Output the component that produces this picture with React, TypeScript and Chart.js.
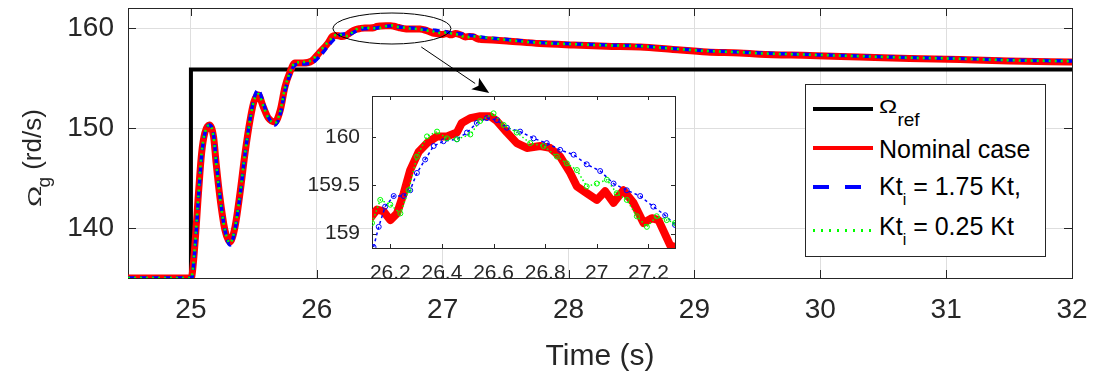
import React, { useEffect, useRef } from "react";
import { Chart, registerables } from "chart.js";
Chart.register(...registerables);

// ---------- main axis ticks ----------
const X_TICKS = [25, 26, 27, 28, 29, 30, 31, 32];
const X_TICK_LABELS = ["25", "26", "27", "28", "29", "30", "31", "32"];
const Y_TICKS = [140, 150, 160];
const Y_TICK_LABELS = ["140", "150", "160"];

// ---------- inset axis ticks ----------
const IN_X_TICKS = [26.2, 26.4, 26.6, 26.8, 27, 27.2];
const IN_X_LABELS = ["26.2", "26.4", "26.6", "26.8", "27", "27.2"];
const IN_Y_TICKS = [159, 159.5, 160];
const IN_Y_LABELS = ["159", "159.5", "160"];

// ---------- reference speed ----------
const T_REF = [24.5, 25.0, 25.0, 32.0];
const V_REF = [135, 135, 155.85, 155.85];

// ---------- transient (24.5 - 26.1 s) ----------
const T_RISE = [24.5, 25.0, 25.006, 25.03, 25.06, 25.085, 25.11, 25.146, 25.18, 25.2, 25.23, 25.27, 25.31, 25.35, 25.39, 25.43, 25.47, 25.5, 25.535, 25.575, 25.615, 25.668, 25.71, 25.747, 25.787, 25.826, 25.89, 25.96, 26.025, 26.09];
const NOM_RISE = [135, 135, 135.1, 138.1, 143.5, 147.5, 149.5, 150.3, 149.1, 146.5, 143.1, 139.8, 138.6, 140.1, 143.5, 147.5, 150.8, 152.6, 153.3, 152.1, 151.0, 150.6, 151.8, 154.1, 155.6, 156.5, 156.5, 156.7, 157.6, 158.5];
const K175_RISE = [135, 135, 135.0, 137.6, 143.0, 147.2, 149.4, 150.3, 149.3, 146.8, 143.3, 139.8, 138.3, 139.8, 143.2, 147.4, 150.9, 152.9, 153.8, 152.5, 151.1, 150.3, 151.4, 153.7, 155.3, 156.3, 156.4, 156.5, 157.2, 158.2];
const K025_RISE = [135, 135, 135.1, 138.0, 143.4, 147.5, 149.5, 150.3, 149.1, 146.5, 143.1, 139.8, 138.5, 140.0, 143.4, 147.5, 150.8, 152.7, 153.4, 152.2, 151.0, 150.5, 151.7, 154.0, 155.6, 156.5, 156.6, 156.8, 157.7, 158.6];

// ---------- zoomed window (26.1 - 27.3 s) ----------
const T_NOM_ZOOM = [26.123, 26.148, 26.174, 26.2, 26.226, 26.252, 26.277, 26.31, 26.342, 26.381, 26.419, 26.458, 26.477, 26.51, 26.548, 26.587, 26.613, 26.652, 26.69, 26.729, 26.781, 26.819, 26.858, 26.897, 26.923, 26.961, 27.0, 27.032, 27.065, 27.103, 27.142, 27.181, 27.213, 27.239, 27.284, 27.303];
const NOM_ZOOM = [159.16, 159.25, 159.23, 159.14, 159.21, 159.42, 159.66, 159.85, 159.94, 160.01, 160.01, 160.05, 160.15, 160.2, 160.22, 160.22, 160.17, 160.05, 159.94, 159.89, 159.91, 159.89, 159.8, 159.63, 159.49, 159.42, 159.35, 159.44, 159.32, 159.45, 159.32, 159.11, 159.16, 159.14, 158.88, 158.86];
const T_K175_ZOOM = [26.135, 26.155, 26.18, 26.213, 26.252, 26.277, 26.303, 26.335, 26.368, 26.406, 26.458, 26.497, 26.535, 26.574, 26.613, 26.652, 26.703, 26.755, 26.806, 26.858, 26.91, 26.961, 27.013, 27.065, 27.116, 27.168, 27.219, 27.265, 27.303];
const K175_ZOOM = [158.86, 159.07, 159.28, 159.39, 159.39, 159.45, 159.63, 159.77, 159.91, 159.96, 159.98, 160.05, 160.15, 160.2, 160.18, 160.1, 160.06, 159.99, 159.94, 159.87, 159.82, 159.72, 159.65, 159.52, 159.45, 159.39, 159.28, 159.19, 159.09];
const T_K025_ZOOM = [26.129, 26.161, 26.2, 26.239, 26.271, 26.303, 26.342, 26.381, 26.419, 26.458, 26.51, 26.548, 26.6, 26.639, 26.69, 26.742, 26.794, 26.845, 26.884, 26.923, 26.961, 27.0, 27.039, 27.077, 27.116, 27.155, 27.194, 27.232, 27.271, 27.303];
const K025_ZOOM = [159.11, 159.35, 159.3, 159.21, 159.45, 159.8, 160.01, 160.06, 159.99, 159.98, 160.03, 160.17, 160.25, 160.13, 160.05, 159.94, 159.91, 159.8, 159.73, 159.66, 159.49, 159.52, 159.56, 159.42, 159.35, 159.18, 159.07, 159.18, 159.14, 159.11];

// ---------- slow decay (27.5 - 32 s) ----------
const T_TAIL = [27.51, 27.77, 28.04, 28.3, 28.57, 28.83, 29.1, 29.36, 29.52, 29.92, 30.31, 30.71, 31.11, 31.5, 32.0];
const NOM_TAIL = [158.7, 158.45, 158.3, 158.18, 158.1, 157.85, 157.6, 157.5, 157.38, 157.25, 157.1, 156.95, 156.85, 156.7, 156.6];
const K175_TAIL = [158.85, 158.55, 158.42, 158.3, 158.2, 157.95, 157.72, 157.6, 157.5, 157.35, 157.2, 157.05, 156.95, 156.8, 156.7];
const K025_TAIL = [158.8, 158.52, 158.38, 158.27, 158.18, 157.93, 157.7, 157.58, 157.47, 157.33, 157.18, 157.03, 156.93, 156.78, 156.68];

// ---------- annotation (data units) ----------
const ELLIPSE = { t: 26.597, v: 159.95, rt: 0.469, rv: 1.55 };
const ARROW = { t0: 26.83, v0: 158.1, t1: 27.37, v1: 153.5 };

const FONT = "'Liberation Sans', Arial, Helvetica, sans-serif";
const TXT = "#262626";
const GRID = "#dedede";
const RED = "#ff0000";
const BLUE = "#0000ff";
const GREEN = "#00ff00";

const pts = (ts: number[], vs: number[]) => ts.map((t, i) => ({ x: t, y: vs[i] }));

function frameTicks(tickLen: number) {
  return {
    id: "frameTicks",
    beforeDatasetsDraw(chart: any) {
      const { ctx, chartArea: a, scales } = chart;
      const xs = scales.x, ys = scales.y;
      ctx.save();
      ctx.strokeStyle = TXT;
      ctx.lineWidth = 1;
      ctx.beginPath();
      for (const t of xs.ticks) {
        const p = Math.round(xs.getPixelForValue(t.value)) + 0.5;
        ctx.moveTo(p, a.bottom); ctx.lineTo(p, a.bottom - tickLen);
        ctx.moveTo(p, a.top); ctx.lineTo(p, a.top + tickLen);
      }
      for (const t of ys.ticks) {
        const p = Math.round(ys.getPixelForValue(t.value)) + 0.5;
        ctx.moveTo(a.left, p); ctx.lineTo(a.left + tickLen, p);
        ctx.moveTo(a.right, p); ctx.lineTo(a.right - tickLen, p);
      }
      ctx.stroke();
      ctx.strokeRect(Math.round(a.left) + 0.5, Math.round(a.top) + 0.5, Math.round(a.right - a.left), Math.round(a.bottom - a.top));
      ctx.restore();
    },
  };
}

const whiteArea = {
  id: "whiteArea",
  beforeDraw(chart: any) {
    const { ctx, chartArea: a } = chart;
    ctx.save();
    ctx.fillStyle = "#ffffff";
    ctx.fillRect(a.left, a.top, a.right - a.left, a.bottom - a.top);
    ctx.restore();
  },
};

const annot = {
  id: "annot",
  afterDatasetsDraw(chart: any) {
    const { ctx, scales } = chart;
    const xs = scales.x, ys = scales.y;
    const cx = xs.getPixelForValue(ELLIPSE.t), cy = ys.getPixelForValue(ELLIPSE.v);
    const rx = Math.abs(xs.getPixelForValue(ELLIPSE.t + ELLIPSE.rt) - cx);
    const ry = Math.abs(ys.getPixelForValue(ELLIPSE.v + ELLIPSE.rv) - cy);
    ctx.save();
    ctx.strokeStyle = "#000";
    ctx.lineWidth = 1;
    ctx.beginPath();
    ctx.ellipse(cx, cy, rx, ry, 0, 0, Math.PI * 2);
    ctx.stroke();
    const x0 = xs.getPixelForValue(ARROW.t0), y0 = ys.getPixelForValue(ARROW.v0);
    const x1 = xs.getPixelForValue(ARROW.t1), y1 = ys.getPixelForValue(ARROW.v1);
    const ang = Math.atan2(y1 - y0, x1 - x0);
    const hl = 17, hw = 7;
    const bx = x1 - hl * Math.cos(ang), by = y1 - hl * Math.sin(ang);
    ctx.beginPath();
    ctx.moveTo(x0, y0);
    ctx.lineTo(bx, by);
    ctx.stroke();
    ctx.fillStyle = "#000";
    ctx.beginPath();
    ctx.moveTo(x1, y1);
    ctx.lineTo(bx + hw * Math.sin(ang), by - hw * Math.cos(ang));
    ctx.lineTo(bx + 4 * Math.cos(ang), by + 4 * Math.sin(ang));
    ctx.lineTo(bx - hw * Math.sin(ang), by + hw * Math.cos(ang));
    ctx.closePath();
    ctx.fill();
    ctx.restore();
  },
};

const fitX = (h: number) => (s: any) => { s.height = h; s.paddingLeft = 0; s.paddingRight = 0; s.paddingTop = 0; s.paddingBottom = 0; };
const fitY = (w: number) => (s: any) => { s.width = w; s.paddingLeft = 0; s.paddingRight = 0; s.paddingTop = 0; s.paddingBottom = 0; };

export default function App() {
  const mainRef = useRef<HTMLCanvasElement | null>(null);
  const insetRef = useRef<HTMLCanvasElement | null>(null);

  useEffect(() => {
    const nomAll = pts([...T_RISE, ...T_NOM_ZOOM, ...T_TAIL], [...NOM_RISE, ...NOM_ZOOM, ...NOM_TAIL]);
    const k175All = pts([...T_RISE, ...T_K175_ZOOM, ...T_TAIL], [...K175_RISE, ...K175_ZOOM, ...K175_TAIL]);
    const k025All = pts([...T_RISE, ...T_K025_ZOOM, ...T_TAIL], [...K025_RISE, ...K025_ZOOM, ...K025_TAIL]);

    const main = new Chart(mainRef.current!, {
      type: "line",
      data: {
        datasets: [
          { label: "ref", data: pts(T_REF, V_REF), borderColor: "#000", borderWidth: 4, pointRadius: 0, order: 3, borderJoinStyle: "miter" },
          { label: "nom", data: nomAll, borderColor: RED, borderWidth: 7, pointRadius: 0, order: 2, borderJoinStyle: "round", borderCapStyle: "round", cubicInterpolationMode: "monotone" },
          { label: "k175", data: k175All, borderColor: BLUE, borderWidth: 3.5, borderDash: [7, 5], pointRadius: 0, order: 1, cubicInterpolationMode: "monotone" },
          { label: "k025", data: k025All, borderColor: GREEN, borderWidth: 2.5, borderDash: [2, 4], pointRadius: 0, order: 0, cubicInterpolationMode: "monotone" },
        ],
      } as any,
      options: {
        responsive: false,
        animation: false,
        events: [],
        layout: { padding: { left: 0, right: 21, top: 8, bottom: 0 } },
        plugins: { legend: { display: false }, tooltip: { enabled: false } },
        scales: {
          x: {
            type: "linear", min: 24.5, max: 32,
            afterBuildTicks: (s: any) => { s.ticks = X_TICKS.map((v) => ({ value: v })); },
            afterFit: fitX(96),
            ticks: { font: { family: FONT, size: 28 }, color: TXT, padding: 15, maxRotation: 0, autoSkip: false, callback: (_v: any, i: number) => X_TICK_LABELS[i] },
            grid: { color: GRID, drawTicks: false, lineWidth: 1 },
            border: { display: false },
          },
          y: {
            type: "linear", min: 135, max: 162,
            afterBuildTicks: (s: any) => { s.ticks = Y_TICKS.map((v) => ({ value: v })); },
            afterFit: fitY(128),
            ticks: { font: { family: FONT, size: 28 }, color: TXT, padding: 14, autoSkip: false, callback: (_v: any, i: number) => Y_TICK_LABELS[i] },
            grid: { color: GRID, drawTicks: false, lineWidth: 1 },
            border: { display: false },
          },
        },
      } as any,
      plugins: [frameTicks(8), annot],
    });

    const inset = new Chart(insetRef.current!, {
      type: "line",
      data: {
        datasets: [
          { label: "nom", data: pts(T_NOM_ZOOM, NOM_ZOOM), borderColor: RED, borderWidth: 8, pointRadius: 0, order: 2, borderJoinStyle: "round", borderCapStyle: "round" },
          { label: "k175", data: pts(T_K175_ZOOM, K175_ZOOM), borderColor: BLUE, borderWidth: 1.5, borderDash: [3, 3], pointRadius: 2.5, pointBorderWidth: 1, pointBorderColor: BLUE, pointBackgroundColor: "rgba(0,0,0,0)", order: 1 },
          { label: "k025", data: pts(T_K025_ZOOM, K025_ZOOM), borderColor: GREEN, borderWidth: 1.5, borderDash: [1.5, 2.5], pointRadius: 2.5, pointBorderWidth: 1, pointBorderColor: GREEN, pointBackgroundColor: "rgba(0,0,0,0)", order: 0 },
        ],
      } as any,
      options: {
        responsive: false,
        animation: false,
        events: [],
        layout: { padding: { left: 0, right: 15, top: 6, bottom: 0 } },
        plugins: { legend: { display: false }, tooltip: { enabled: false } },
        scales: {
          x: {
            type: "linear", min: 26.129, max: 27.303,
            afterBuildTicks: (s: any) => { s.ticks = IN_X_TICKS.map((v) => ({ value: v })); },
            afterFit: fitX(42),
            ticks: { font: { family: FONT, size: 21 }, color: TXT, padding: 13, maxRotation: 0, autoSkip: false, callback: (_v: any, i: number) => IN_X_LABELS[i] },
            grid: { display: false, drawTicks: false },
            border: { display: false },
          },
          y: {
            type: "linear", min: 158.85, max: 160.43,
            afterBuildTicks: (s: any) => { s.ticks = IN_Y_TICKS.map((v) => ({ value: v })); },
            afterFit: fitY(72),
            ticks: { font: { family: FONT, size: 21 }, color: TXT, padding: 12, autoSkip: false, callback: (_v: any, i: number) => IN_Y_LABELS[i] },
            grid: { display: false, drawTicks: false },
            border: { display: false },
          },
        },
      } as any,
      plugins: [whiteArea, frameTicks(4)],
    });

    return () => { main.destroy(); inset.destroy(); };
  }, []);

  const omega = (size: number, scale: number, extra: number) => (
    <span style={{ fontSize: size, display: "inline-block", transform: `scaleX(${scale})`, transformOrigin: "left", marginRight: extra }}>Ω</span>
  );

  const row = (top: number, children: React.ReactNode) => (
    <div style={{ position: "absolute", left: 879, top, fontSize: 25, lineHeight: "25px", whiteSpace: "nowrap", color: "#000" }}>{children}</div>
  );

  return (
    <div style={{ position: "absolute", left: 0, top: 0, width: 1093, height: 374, fontFamily: FONT, color: TXT, background: "#fff", overflow: "hidden" }}>
      <canvas ref={mainRef} width={1093} height={374} style={{ position: "absolute", left: 0, top: 0, width: 1093, height: 374 }} />
      <canvas ref={insetRef} width={390} height={200} style={{ position: "absolute", left: 300, top: 90, width: 390, height: 200 }} />

      {/* legend */}
      <div style={{ position: "absolute", left: 805, top: 84, width: 239, height: 171, border: `1px solid ${TXT}`, background: "#fff" }} />
      <div style={{ position: "absolute", left: 813, top: 107, width: 60, height: 4, background: "#000" }} />
      <div style={{ position: "absolute", left: 813, top: 146, width: 60, height: 4, background: RED }} />
      <div style={{ position: "absolute", left: 813, top: 185, width: 60, height: 4, background: `repeating-linear-gradient(90deg, ${BLUE} 0 16px, transparent 16px 32px)` }} />
      <div style={{ position: "absolute", left: 813, top: 229, width: 58, height: 3, background: `repeating-linear-gradient(90deg, ${GREEN} 0 2.5px, transparent 2.5px 8px)` }} />
      {row(92, <>{omega(18, 1.35, 5)}<span style={{ fontSize: 19, verticalAlign: "-13px" }}>ref</span></>)}
      {row(137, <>Nominal case</>)}
      {row(174, <>Kt<span style={{ fontSize: 16, verticalAlign: "-10px" }}>i</span> = 1.75 Kt,</>)}
      {row(214, <>Kt<span style={{ fontSize: 16, verticalAlign: "-10px" }}>i</span> = 0.25 Kt</>)}

      {/* axis labels */}
      <div style={{ position: "absolute", left: 0, width: 1200, top: 340, fontSize: 30, lineHeight: "30px", textAlign: "center", whiteSpace: "nowrap" }}>
        <span style={{ position: "absolute", left: 600, transform: "translateX(-50%)" }}>Time (s)</span>
      </div>
      <div style={{ position: "absolute", left: -68, top: 143, width: 200, height: 30, fontSize: 26, lineHeight: "30px", textAlign: "center", whiteSpace: "nowrap", transform: "rotate(-90deg)", transformOrigin: "50% 50%" }}>
        {omega(19, 1.5, 5)}<span style={{ fontSize: 19, verticalAlign: "-9px" }}>g</span> (rd/s)
      </div>
    </div>
  );
}
